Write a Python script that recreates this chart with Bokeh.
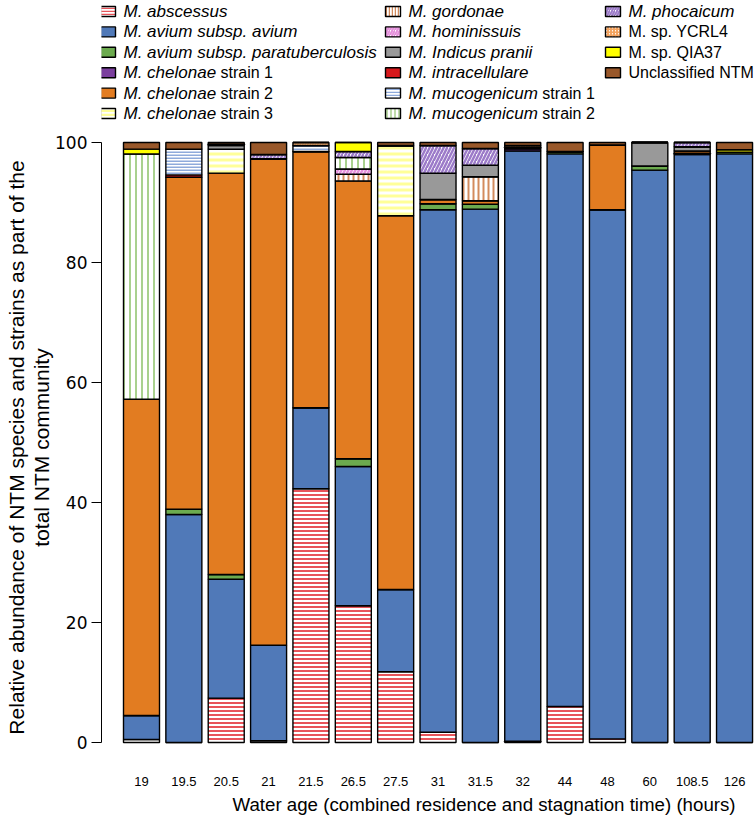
import numpy as np
from bokeh.plotting import figure
from bokeh.models import Range1d, FixedTicker, ColumnDataSource, Title
from bokeh.core.properties import value
from bokeh.embed import file_html
from bokeh.resources import INLINE

# ---------------- data ----------------
ages = ["19", "19.5", "20.5", "21", "21.5", "26.5", "27.5", "31", "31.5",
        "32", "44", "48", "60", "108.5", "126"]

abscessus      = [0.5, 0, 7.4, 0.3, 42.3, 22.8, 11.8, 1.7, 0, 0.2, 6.0, 0.6, 0, 0, 0]
avium          = [4.0, 38.0, 19.8, 15.9, 13.5, 23.2, 13.7, 87.1, 88.9, 98.4, 92.1, 88.2, 95.4, 98.0, 98.1]
paratb         = [0, 0.9, 0.8, 0, 0, 1.3, 0, 1.0, 0.8, 0, 0.4, 0, 0.7, 0.2, 0.3]
chelonae1      = [0, 0, 0, 0, 0, 0, 0, 0, 0, 0.4, 0, 0, 0, 0, 0]
chelonae2      = [52.7, 55.3, 66.9, 81.1, 42.7, 46.3, 62.3, 0.7, 0.6, 0, 0, 10.8, 0, 0.4, 0]
chelonae3      = [0, 0, 4.0, 0, 0, 0, 11.7, 0, 0, 0, 0, 0, 0, 0, 0]
gordonae       = [0, 0, 0, 0, 0, 1.1, 0, 0, 4.0, 0, 0, 0, 0, 0, 0]
hominissuis    = [0, 0, 0, 0, 0, 0.9, 0, 0, 0, 0, 0, 0, 0, 0, 0]
indicus        = [0, 0, 0.6, 0, 0, 0, 0, 4.4, 1.9, 0, 0, 0, 3.9, 0.7, 0]
intracellulare = [0, 0.4, 0.2, 0, 0, 0, 0, 0, 0, 0.2, 0, 0, 0, 0, 0]
mucogenicum1   = [0, 4.3, 0, 0, 1.0, 0, 0, 0, 0, 0, 0, 0, 0, 0, 0]
mucogenicum2   = [40.9, 0, 0, 0, 0, 1.9, 0, 0, 0, 0, 0, 0, 0, 0, 0]
phocaicum      = [0, 0, 0, 0.7, 0, 1.0, 0, 4.6, 2.8, 0, 0, 0, 0, 0.7, 0]
ycrl4          = [0, 0, 0, 0, 0.5, 0, 0, 0, 0, 0.3, 0, 0, 0, 0, 0]
qia37          = [0.8, 0, 0, 0, 0, 1.5, 0, 0, 0, 0, 0, 0, 0, 0, 0.4]
unclassified   = [1.1, 1.1, 0.3, 2.0, 0, 0, 0.5, 0.5, 1.0, 0.5, 1.5, 0.4, 0, 0, 1.2]

y_ticks = [0, 20, 40, 60, 80, 100]

# (values, italic part, regular part, fill, hatch pattern, hatch colour, hatch scale, hatch weight)
series = [
    (abscessus, "M. abscessus", "", "white", "horizontal_line", "#e8545a", 4, 2),
    (avium, "M. avium subsp. avium", "", "#5079b8", None, None, 0, 0),
    (paratb, "M. avium subsp. paratuberculosis", "", "#6cab4f", None, None, 0, 0),
    (chelonae1, "M. chelonae", "strain 1", "#7b3f9e", None, None, 0, 0),
    (chelonae2, "M. chelonae", "strain 2", "#e27c21", None, None, 0, 0),
    (chelonae3, "M. chelonae", "strain 3", "white", "horizontal_line", "#ffff99", 6, 3),
    (gordonae, "M. gordonae", "", "white", "vertical_line", "#d38b5d", 5, 2),
    (hominissuis, "M. hominissuis", "", "white", "right_diagonal_line", "#e590dc", 7, 2.5),
    (indicus, "M. Indicus pranii", "", "#999999", None, None, 0, 0),
    (intracellulare, "M. intracellulare", "", "#d7191c", None, None, 0, 0),
    (mucogenicum1, "M. mucogenicum", "strain 1", "white", "horizontal_line", "#8eaadb", 3, 2),
    (mucogenicum2, "M. mucogenicum", "strain 2", "white", "vertical_line", "#a9d18e", 6, 2),
    (phocaicum, "M. phocaicum", "", "white", "right_diagonal_line", "#9c7bc9", 7, 2.5),
    (ycrl4, "", "M. sp. YCRL4", "white", "right_diagonal_line", "#f4a460", 5, 2),
    (qia37, "", "M. sp. QIA37", "#ffff00", None, None, 0, 0),
    (unclassified, "", "Unclassified NTM", "#99582a", None, None, 0, 0),
]

FONT = "Liberation Sans"
W, H = 756, 818

# pixel geometry of the frame
PXB = 42.36          # px per bar slot
X0 = 141.0           # page x of first bar centre
Y0 = 742.0           # page y of value 0
PPU = 6.0            # px per percent
FL, FR = 101, 756    # frame left / right
FT, FB = 0, 744      # frame top / bottom

def dx(px):
    return (px - X0) / PXB

def dy(py):
    return (Y0 - py) / PPU

ARIAL = {' ': 278, '.': 278, 'M': 833, 'I': 278, 'N': 722, 'T': 611, 'U': 722,
         'Y': 667, 'C': 722, 'R': 722, 'L': 556, 'Q': 778, 'A': 667,
         'c': 500, 'f': 278, 'i': 222, 'j': 222, 'k': 500, 'l': 222, 'm': 833,
         'r': 333, 's': 500, 't': 278, 'v': 500, 'w': 722, 'x': 500, 'y': 500, 'z': 500}

def tw(s, size):
    return sum(ARIAL.get(ch, 556) for ch in s) / 1000.0 * size

p = figure(width=W, height=H, output_backend="svg", toolbar_location=None, title=None,
           x_range=Range1d(dx(FL), dx(FR)), y_range=Range1d(dy(FB), dy(FT)),
           min_border_left=FL, min_border_right=W - FR,
           min_border_top=FT, min_border_bottom=H - FB)
p.outline_line_color = None
p.xgrid.visible = False
p.ygrid.visible = False
p.background_fill_color = "white"
p.border_fill_color = "white"

xs = np.arange(len(ages))
bottom = np.zeros(len(ages))
for vals, it, rg, fill, hp, hc, hs, hw in series:
    v = np.array(vals, dtype=float)
    src = ColumnDataSource(dict(x=xs, bottom=bottom.copy(), top=bottom + v))
    kw = dict(fill_color=fill, line_color="black", line_width=1.4)
    if hp:
        kw.update(hatch_pattern=hp, hatch_color=hc, hatch_scale=hs, hatch_weight=hw)
    p.vbar(x="x", bottom="bottom", top="top", width=0.85, source=src, **kw)
    bottom = bottom + v

# y axis
p.yaxis.ticker = FixedTicker(ticks=y_ticks)
p.yaxis.bounds = (0, 100)
p.yaxis.major_tick_out = 10
p.yaxis.major_tick_in = 0
p.yaxis.minor_tick_line_color = None
p.yaxis.axis_line_color = "black"
p.yaxis.major_label_text_font = "DejaVu Sans"
p.yaxis.major_label_text_font_size = "17px"
p.yaxis.major_label_text_color = "black"
p.yaxis.major_label_standoff = 4
p.yaxis.axis_label_standoff = 0

# x axis
p.xaxis.ticker = FixedTicker(ticks=list(range(len(ages))))
p.xaxis.major_label_overrides = {i: a for i, a in enumerate(ages)}
p.xaxis.axis_line_color = None
p.xaxis.major_tick_line_color = None
p.xaxis.minor_tick_line_color = None
p.xaxis.major_label_text_font = FONT
p.xaxis.major_label_text_font_size = "13px"
p.xaxis.major_label_text_color = "black"
p.xaxis.major_label_standoff = 26

p.add_layout(Title(text="Water age (combined residence and stagnation time) (hours)",
                   align="left", offset=232 - FL, standoff=6,
                   text_font=FONT, text_font_size="18.7px", text_font_style="normal",
                   text_color="black"), "below")

# y-axis title: two lines, both centred at page y 447
YT_FS = 21
for txt in ["total NTM community",
            "Relative abundance of NTM species and strains as part of the"]:
    start = 447 + tw(txt, YT_FS) / 2
    p.add_layout(Title(text=txt, align="left", offset=FB - start, standoff=0,
                       text_font=FONT, text_font_size=f"{YT_FS}px", text_font_style="normal",
                       text_color="black"), "left")

# ---------------- legend (inside the frame, above the bars) ----------------
fs_it, fs_rg = 17, 16
cols_sw = [100, 385, 605]
cols_tx = [123, 408, 628]
per_col = [6, 6, 4]
row0, rstep = 11, 20.4
idx = 0
for c in range(3):
    for r in range(per_col[c]):
        vals, it, rg, fill, hp, hc, hs, hw = series[idx]
        py = row0 + r * rstep
        kw = dict(fill_color=fill, line_color="black", line_width=1.4)
        if hp:
            kw.update(hatch_pattern=hp, hatch_color=hc, hatch_scale=max(3, hs - 2),
                      hatch_weight=max(1.2, hw - 0.5))
        p.rect(x=[dx(cols_sw[c] + 7.5)], y=[dy(py)], width=15 / PXB, height=10 / PPU, **kw)
        tx = cols_tx[c]
        if it:
            p.text(x=[dx(tx)], y=[dy(py)], text=[it], text_font=value(FONT),
                   text_font_style="italic", text_font_size=f"{fs_it}px",
                   text_baseline="middle", text_color="black")
            tx += tw(it, fs_it) + tw(" ", fs_rg)
        if rg:
            p.text(x=[dx(tx)], y=[dy(py)], text=[rg], text_font=value(FONT),
                   text_font_style="normal", text_font_size=f"{fs_rg}px",
                   text_baseline="middle", text_color="black")
        idx += 1

open("out.html", "w").write(file_html(p, INLINE))
